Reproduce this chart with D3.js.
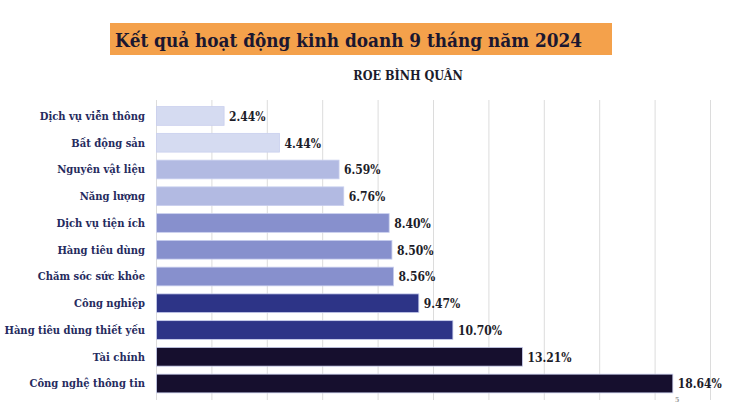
<!DOCTYPE html>
<meta charset="utf-8">
<script src="https://d3js.org/d3.v7.min.js"></script>
<style>
  body { margin: 0; background: #fff; }
  text { font-family: "DejaVu Serif"; font-stretch: condensed; font-weight: bold; }
</style>
<div id="my_dataviz"></div>
<script>

// data
var sectors = ["Dịch vụ viễn thông", "Bất động sản", "Nguyên vật liệu", "Năng lượng",
  "Dịch vụ tiện ích", "Hàng tiêu dùng", "Chăm sóc sức khỏe", "Công nghiệp",
  "Hàng tiêu dùng thiết yếu", "Tài chính", "Công nghệ thông tin"];
var roe = [2.44, 4.44, 6.59, 6.76, 8.40, 8.50, 8.56, 9.47, 10.70, 13.21, 18.64];
var shade = [0, 0, 1, 1, 2, 2, 2, 3, 3, 4, 4];   // colour group per bar
var xTicks = [0, 2, 4, 6, 8, 10, 12, 14, 16, 18, 20];

var palette = ["#d5dbf1", "#b2bae2", "#8790cd", "#2d3487", "#160f2e"];

var width = 730, height = 405;

var svg = d3.select("#my_dataviz")
  .append("svg")
    .attr("width", width)
    .attr("height", height);

// title box
svg.append("rect")
  .attr("x", 110).attr("y", 23)
  .attr("width", 502).attr("height", 32)
  .attr("fill", "#f4a14b");

svg.append("text")
  .attr("x", 115).attr("y", 47)
  .attr("font-size", 18.8)
  .attr("fill", "#1b1730")
  .text("Kết quả hoạt động kinh doanh 9 tháng năm 2024");

svg.append("text")
  .attr("x", 408).attr("y", 80)
  .attr("text-anchor", "middle")
  .attr("font-size", 12.5)
  .attr("fill", "#1b1b2b")
  .text("ROE BÌNH QUÂN");

// scales
var x = d3.scaleLinear()
  .domain([0, 20])
  .range([156.5, 710.5]);

var y = d3.scaleBand()
  .domain(sectors)
  .range([102.6, 396.9])
  .paddingInner(0.3)
  .paddingOuter(0.15);

// vertical gridlines
svg.append("g")
  .selectAll("line")
  .data(xTicks)
  .enter().append("line")
    .attr("x1", function(d) { return x(d) })
    .attr("x2", function(d) { return x(d) })
    .attr("y1", 100)
    .attr("y2", 400)
    .attr("stroke", "#dcdcdc")
    .attr("stroke-width", 1);

// bars
svg.append("g")
  .selectAll("rect")
  .data(roe)
  .enter().append("rect")
    .attr("x", x(0))
    .attr("y", function(d, i) { return y(sectors[i]) })
    .attr("width", function(d) { return x(d) - x(0) })
    .attr("height", y.bandwidth())
    .attr("fill", function(d, i) { return palette[shade[i]] })
    .attr("stroke", "#c9cfee")
    .attr("stroke-width", 0.8);

// category labels
svg.append("g")
  .selectAll("text")
  .data(sectors)
  .enter().append("text")
    .attr("x", 145)
    .attr("y", function(d) { return y(d) + y.bandwidth() / 2 })
    .attr("dy", "0.35em")
    .attr("text-anchor", "end")
    .attr("font-size", 11.1)
    .attr("fill", "#262b5e")
    .text(function(d) { return d });

// value labels
svg.append("g")
  .selectAll("text")
  .data(roe)
  .enter().append("text")
    .attr("x", function(d) { return x(d) + 5 })
    .attr("y", function(d, i) { return y(sectors[i]) + y.bandwidth() / 2 })
    .attr("dy", "0.4em")
    .attr("font-size", 12)
    .attr("fill", "#1c1c28")
    .text(function(d) { return d.toFixed(2) + "%" });

// little page mark under the last bar
svg.append("text")
  .attr("x", 675).attr("y", 402)
  .attr("font-size", 7)
  .attr("font-weight", "normal")
  .attr("fill", "#9a9a9a")
  .text("5");

</script>
